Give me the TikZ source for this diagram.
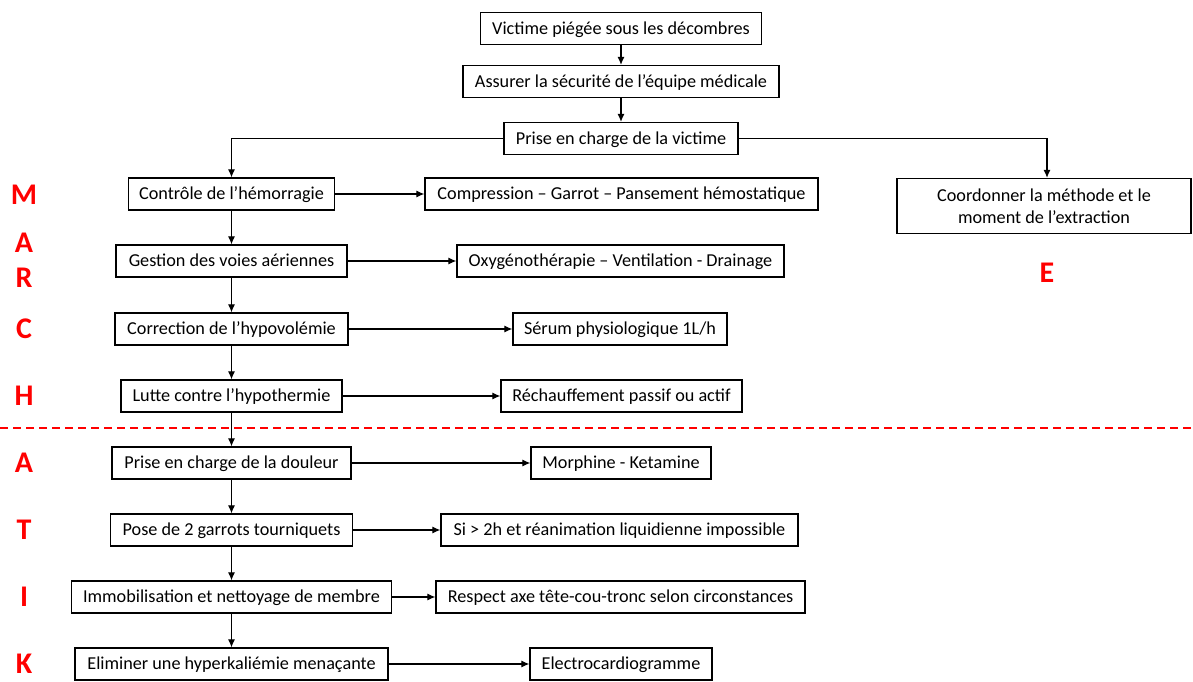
\documentclass[tikz,border=0pt]{standalone}
\usepackage{fontspec}
\setmainfont{Carlito}
\usetikzlibrary{arrows.meta}
\begin{document}
\begin{tikzpicture}[x=1pt,y=-1pt,
  boxbase/.style={draw=black,line width=1.3pt,minimum height=32pt,inner sep=0pt,align=center,font=\fontsize{18.2}{22}\selectfont},
  box/.style={boxbase,text height=14pt,text depth=2.4pt},
  arr/.style={line width=1.1pt,-{Latex[length=8pt,width=7pt]}},
  letter/.style={text=red,font=\fontsize{30}{31}\selectfont\bfseries}]
\useasboundingbox[fill=white] (0,0) rectangle (1193,682);
% top
\node[box,minimum width=281pt] (vict) at (621,28.5) {Victime piégée sous les décombres};
\node[box,minimum width=316pt] (secu) at (621,81.5) {Assurer la sécurité de l’équipe médicale};
\node[box,minimum width=234pt] (prise) at (621,138.5) {Prise en charge de la victime};
\node[boxbase,minimum width=294pt,minimum height=55pt] (coord) at (1044,206) {Coordonner la méthode et le\\moment de l’extraction};
% left column
\node[box,minimum width=206pt] (ctrl) at (231.5,194) {Contrôle de l’hémorragie};
\node[box,minimum width=231pt] (gest) at (231.5,261) {Gestion des voies aériennes};
\node[box,minimum width=233pt] (corr) at (231.5,329) {Correction de l’hypovolémie};
\node[box,minimum width=221pt] (lutte) at (231.5,396) {Lutte contre l’hypothermie};
\node[box,minimum width=239pt] (doul) at (231.5,463) {Prise en charge de la douleur};
\node[box,minimum width=242pt] (pose) at (231.5,530) {Pose de 2 garrots tourniquets};
\node[box,minimum width=320pt] (immo) at (231.5,597) {Immobilisation et nettoyage de membre};
\node[box,minimum width=313pt] (elim) at (231.5,664) {Eliminer une hyperkaliémie menaçante};
% right column
\node[box,minimum width=393pt] (comp) at (621.5,194) {Compression – Garrot – Pansement hémostatique};
\node[box,minimum width=327pt] (oxy) at (620.5,261) {Oxygénothérapie – Ventilation - Drainage};
\node[box,minimum width=214pt] (serum) at (620,329) {Sérum physiologique 1L/h};
\node[box,minimum width=241pt] (rech) at (621.5,396) {Réchauffement passif ou actif};
\node[box,minimum width=180pt] (morph) at (621,463) {Morphine - Ketamine};
\node[box,minimum width=357pt] (si) at (619.5,530) {Si > 2h et réanimation liquidienne impossible};
\node[box,minimum width=369pt] (resp) at (620.5,597) {Respect axe tête-cou-tronc selon circonstances};
\node[box,minimum width=182pt] (ecg) at (621,664) {Electrocardiogramme};
% letters
\node[letter] (lM) at (24,195) {M};
\node[letter] (lA) at (24,243) {A};
\node[letter] (lR) at (24,278) {R};
\node[letter] (lC) at (24,329) {C};
\node[letter] (lH) at (24,396) {H};
\node[letter] (lA2) at (24,463) {A};
\node[letter] (lT) at (24,530) {T};
\node[letter] (lI) at (24,597) {I};
\node[letter] (lK) at (24,664) {K};
\node[letter] (lE) at (1047,273) {E};
% dashed separator
\coordinate (dl) at (0,428);
\coordinate (dr) at (1193,428);
\draw[red,line width=2pt,dash pattern=on 8pt off 5pt] (dl) -- (dr);
% connectors
\draw[arr] (vict) -- (secu);
\draw[arr] (secu) -- (prise);
\draw[arr] (prise.west) -| (ctrl.north);
\draw[arr] (prise.east) -| ([xshift=3pt]coord.north);
\draw[arr] (ctrl) -- (gest);
\draw[arr] (gest) -- (corr);
\draw[arr] (corr) -- (lutte);
\draw[arr] (lutte) -- (doul);
\draw[arr] (doul) -- (pose);
\draw[arr] (pose) -- (immo);
\draw[arr] (immo) -- (elim);
\draw[arr] (ctrl) -- (comp);
\draw[arr] (gest) -- (oxy);
\draw[arr] (corr) -- (serum);
\draw[arr] (lutte) -- (rech);
\draw[arr] (doul) -- (morph);
\draw[arr] (pose) -- (si);
\draw[arr] (immo) -- (resp);
\draw[arr] (elim) -- (ecg);
\end{tikzpicture}
\end{document}
